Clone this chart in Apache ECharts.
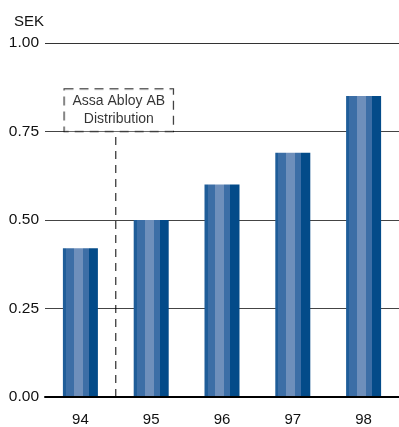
<!DOCTYPE html>
<html><head><meta charset="utf-8">
<script src="https://cdn.jsdelivr.net/npm/echarts@6/dist/echarts.min.js"></script>
<style>html,body{margin:0;padding:0;background:#fff}#c{width:399px;height:427px}</style>
</head><body><div id="c"></div>
<script>
const categories = ['94','95','96','97','98'];
const dividend = [0.42, 0.50, 0.60, 0.69, 0.85];
const yTicks = [0, 0.25, 0.5, 0.75, 1.0];
const unitLabel = 'SEK';
const annotationText = ['Assa Abloy AB', 'Distribution'];
const annotationX = 0.5;      // between 94 and 95 (category index units)
const annotationTop = 0.75;   // dashed line reaches box
const annotationCenter = 0.81;

const chart = echarts.init(document.getElementById('c'));
const font = 'Arial, "Liberation Sans", sans-serif';
const barGrad = {
  type: 'linear', x: 0, y: 0, x2: 1, y2: 0,
  colorStops: [
    {offset: 0, color: '#1f5d99'}, {offset: 0.09, color: '#1f5d99'},
    {offset: 0.09, color: '#3c6ea6'}, {offset: 0.31, color: '#3c6ea6'},
    {offset: 0.31, color: '#6e8fbb'}, {offset: 0.57, color: '#6e8fbb'},
    {offset: 0.57, color: '#3c6ea6'}, {offset: 0.74, color: '#3c6ea6'},
    {offset: 0.74, color: '#034b89'}, {offset: 1, color: '#034b89'}
  ]
};
chart.setOption({
  animation: false,
  title: {text: unitLabel, left: 14, top: 14, padding: 0,
    textStyle: {color: '#111', fontSize: 15, fontWeight: 'normal', fontFamily: font}},
  grid: {left: 45, right: 0, top: 43, bottom: 29},
  xAxis: [{
    type: 'category', data: categories,
    axisLine: {show: true, lineStyle: {color: '#000', width: 2}},
    axisTick: {show: false},
    axisLabel: {color: '#111', fontSize: 15, fontFamily: font, margin: 15},
    z: 5
  }, {
    type: 'value', min: -0.5, max: 4.5, show: false
  }],
  yAxis: {
    type: 'value', min: yTicks[0], max: yTicks[yTicks.length-1], interval: 0.25,
    axisLine: {show: false}, axisTick: {show: false},
    axisLabel: {color: '#111', fontSize: 15.5, fontFamily: font, margin: 6, formatter: v => v.toFixed(2)},
    splitLine: {show: true, lineStyle: {color: ['#000', '#444', '#444', '#444', '#333'], width: 1}}
  },
  series: [{
    type: 'bar', data: dividend, barWidth: 35,
    itemStyle: {color: barGrad}, z: 3
  }, {
    type: 'line', xAxisIndex: 1, data: [[annotationX, 0], [annotationX, annotationTop]],
    symbol: 'none', lineStyle: {color: '#000', width: 1, type: [8, 6]}, z: 4
  }, {
    type: 'scatter', xAxisIndex: 1, data: [[annotationX, annotationCenter]],
    symbolSize: 0, z: 6,
    label: {
      show: true, position: 'inside', formatter: annotationText.join('\n'), offset: [3, 0],
      color: '#000', fontSize: 14, fontFamily: font, lineHeight: 18, align: 'center',
      backgroundColor: '#fff', borderColor: '#000', borderWidth: 1, borderType: [9, 6],
      padding: [3, 8]
    }
  }]
});
</script></body></html>
